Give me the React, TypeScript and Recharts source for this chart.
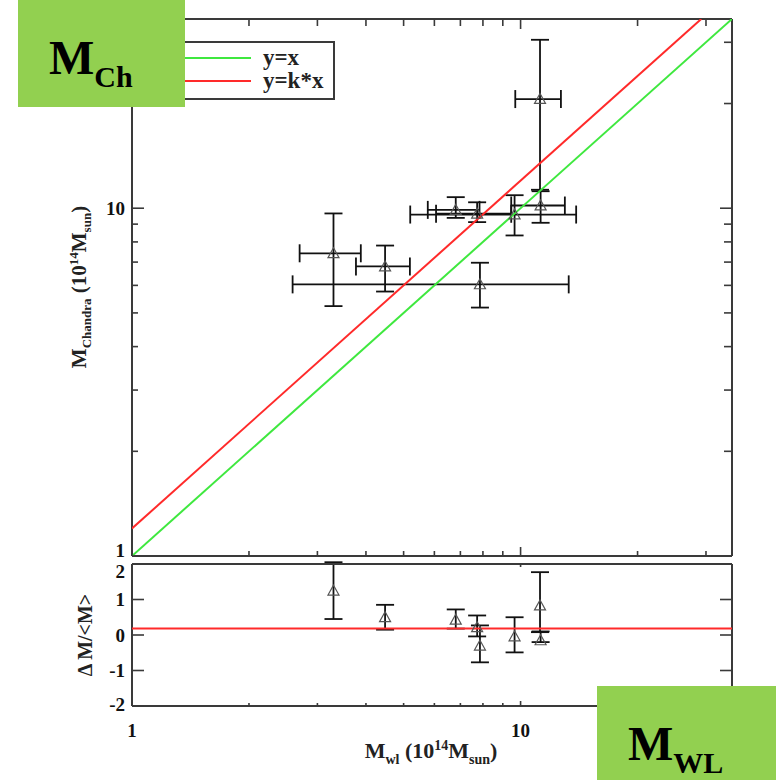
import { ScatterChart, Scatter, XAxis, YAxis, ErrorBar } from 'recharts';

// weak-lensing vs Chandra cluster masses, units of 1e14 Msun
const M_WL    = [3.30, 4.48, 7.86, 6.81, 7.73, 9.65, 11.26, 11.22];
const M_WL_LO = [2.70, 3.77, 2.59, 5.77, 6.06, 5.20, 9.46, 9.69];
const M_WL_HI = [3.88, 5.19, 13.3, 7.84, 9.46, 13.9, 13.0, 12.7];

const M_CH    = [7.42, 6.80, 6.04, 9.89, 9.64, 9.59, 10.18, 20.6];
const M_CH_LO = [5.23, 5.76, 5.18, 9.38, 9.12, 8.35, 9.08, 11.3];
const M_CH_HI = [9.66, 7.81, 6.97, 10.76, 10.4, 10.9, 11.19, 30.5];

// lower panel: Delta M / <M>
const RESID    = [1.25, 0.50, -0.30, 0.43, 0.22, -0.04, -0.15, 0.83];
const RESID_LO = [0.45, 0.15, -0.77, 0.18, -0.04, -0.49, -0.20, 0.08];
const RESID_HI = [2.05, 0.85, 0.27, 0.72, 0.55, 0.50, 0.10, 1.77];

const K = 1.2;          // slope of y=k*x
const OFFSET = 0.18;    // mean residual line
const DOMAIN: [number, number] = [1, 35];
const LOG_TICKS = [1, 2, 3, 4, 5, 6, 7, 8, 9, 10, 20, 30];
const MAJOR = [1, 10];
const RES_TICKS = [-2, -1, 0, 1, 2];

const FONT = '"Liberation Serif", "Times New Roman", serif';
const AXIS = '#3a3a3a';
const GREEN = '#3fe83f';
const RED = '#ff2a2a';
const BOX = '#92d050';

const points = M_WL.map((x, i) => ({
  x,
  y: M_CH[i],
  ex: [x - M_WL_LO[i], M_WL_HI[i] - x],
  ey: [M_CH[i] - M_CH_LO[i], M_CH_HI[i] - M_CH[i]],
}));

const resid = M_WL.map((x, i) => ({
  x,
  y: RESID[i],
  ey: [RESID[i] - RESID_LO[i], RESID_HI[i] - RESID[i]],
}));

const oneToOne = DOMAIN.map(v => ({ x: v, y: v }));
const kLine = [{ x: DOMAIN[0], y: K * DOMAIN[0] }, { x: DOMAIN[1] / K, y: DOMAIN[1] }];
const offsetLine = DOMAIN.map(v => ({ x: v, y: OFFSET }));

type Side = 'left' | 'right' | 'top' | 'bottom';

// ticks point into the frame, labels sit outside; nudge moves edge labels inward
function makeTick(side: Side, major: number[], majLen: number, minLen: number, labels: boolean,
  nudge: Record<string, number> = {}) {
  return (props: any) => {
    const { x, y, payload } = props;
    const v = payload.value;
    const isMajor = major.includes(v);
    const len = isMajor ? majLen : minLen;
    let x2 = x, y2 = y;
    if (side === 'left') x2 = x + len;
    else if (side === 'right') x2 = x - len;
    else if (side === 'bottom') y2 = y - len;
    else y2 = y + len;
    const dy = nudge[String(v)] || 0;
    const txt = { fontFamily: FONT, fontWeight: 700, fontSize: 19, fill: '#111' };
    return (
      <g>
        {len > 0 && <line x1={x} y1={y} x2={x2} y2={y2} stroke={AXIS} strokeWidth={1.6} />}
        {labels && isMajor && side === 'left' && (
          <text x={x - 7} y={y + dy} textAnchor="end" dominantBaseline="central" {...txt}>{v}</text>
        )}
        {labels && isMajor && side === 'bottom' && (
          <text x={x} y={y + 24} textAnchor="middle" dominantBaseline="central" {...txt}>{v}</text>
        )}
      </g>
    );
  };
}

const Triangle = (p: any) => {
  const { cx, cy } = p;
  const s = 5.5;
  return (
    <polygon
      points={`${cx},${cy - s} ${cx - s},${cy + s * 0.8} ${cx + s},${cy + s * 0.8}`}
      fill="none" stroke="#555" strokeWidth={1.2}
    />
  );
};

const NoDot = () => <g />;

const axisLine = { stroke: AXIS, strokeWidth: 2 };

function TopPanel() {
  return (
    <ScatterChart width={776} height={560} margin={{ top: 18, right: 43, bottom: 3, left: 131 }}>
      <XAxis xAxisId="b" dataKey="x" type="number" scale="log" domain={DOMAIN} allowDataOverflow
        ticks={LOG_TICKS} interval={0} height={1} tickSize={0} tickMargin={0} tickLine={false}
        axisLine={axisLine} tick={makeTick('bottom', [10], 9, 5, false)} />
      <XAxis xAxisId="t" orientation="top" dataKey="x" type="number" scale="log" domain={DOMAIN} allowDataOverflow
        ticks={LOG_TICKS} interval={0} height={1} tickSize={0} tickMargin={0} tickLine={false}
        axisLine={axisLine} tick={makeTick('top', [10], 10, 7, false)} />
      <YAxis yAxisId="l" dataKey="y" type="number" scale="log" domain={DOMAIN} allowDataOverflow
        ticks={LOG_TICKS} interval={0} width={1} tickSize={0} tickMargin={0} tickLine={false}
        axisLine={axisLine} tick={makeTick('left', MAJOR, 12, 6, true, { '1': -6 })} />
      <YAxis yAxisId="r" orientation="right" dataKey="y" type="number" scale="log" domain={DOMAIN} allowDataOverflow
        ticks={LOG_TICKS} interval={0} width={1} tickSize={0} tickMargin={0} tickLine={false}
        axisLine={axisLine} tick={makeTick('right', MAJOR, 12, 8, false)} />
      <Scatter xAxisId="t" yAxisId="r" data={oneToOne} line={{ stroke: GREEN, strokeWidth: 2 }}
        shape={NoDot} legendType="none" isAnimationActive={false} />
      <Scatter xAxisId="b" yAxisId="l" data={kLine} line={{ stroke: RED, strokeWidth: 2 }}
        shape={NoDot} legendType="none" isAnimationActive={false} />
      <Scatter xAxisId="b" yAxisId="l" data={points} shape={Triangle} isAnimationActive={false}>
        <ErrorBar dataKey="ex" direction="x" width={9} stroke="#111" strokeWidth={1.8} isAnimationActive={false} />
        <ErrorBar dataKey="ey" direction="y" width={9} stroke="#111" strokeWidth={1.8} isAnimationActive={false} />
      </Scatter>
    </ScatterChart>
  );
}

function BottomPanel() {
  return (
    <ScatterChart width={776} height={224} margin={{ top: 7, right: 43, bottom: 73, left: 131 }}>
      <XAxis xAxisId="b" dataKey="x" type="number" scale="log" domain={DOMAIN} allowDataOverflow
        ticks={LOG_TICKS} interval={0} height={1} tickSize={0} tickMargin={0} tickLine={false}
        axisLine={axisLine} tick={makeTick('bottom', MAJOR, 5, 3, true)} />
      <XAxis xAxisId="t" orientation="top" dataKey="x" type="number" scale="log" domain={DOMAIN} allowDataOverflow
        ticks={[10]} interval={0} height={1} tickSize={0} tickMargin={0} tickLine={false}
        axisLine={axisLine} tick={makeTick('top', [10], 3, 0, false)} />
      <YAxis yAxisId="l" dataKey="y" type="number" domain={[-2, 2]} allowDataOverflow
        ticks={RES_TICKS} interval={0} width={1} tickSize={0} tickMargin={0} tickLine={false}
        axisLine={axisLine} tick={makeTick('left', RES_TICKS, 12, 12, true, { '2': 7, '-2': -2 })} />
      <YAxis yAxisId="r" orientation="right" dataKey="y" type="number" domain={[-2, 2]} allowDataOverflow
        ticks={RES_TICKS} interval={0} width={1} tickSize={0} tickMargin={0} tickLine={false}
        axisLine={axisLine} tick={makeTick('right', RES_TICKS, 12, 12, false)} />
      <Scatter xAxisId="t" yAxisId="r" data={offsetLine} line={{ stroke: RED, strokeWidth: 2 }}
        shape={NoDot} legendType="none" isAnimationActive={false} />
      <Scatter xAxisId="b" yAxisId="l" data={resid} shape={Triangle} isAnimationActive={false}>
        <ErrorBar dataKey="ey" direction="y" width={9} stroke="#111" strokeWidth={1.8} isAnimationActive={false} />
      </Scatter>
    </ScatterChart>
  );
}

const labelStyle = {
  position: 'absolute' as const,
  fontFamily: FONT,
  fontWeight: 700,
  fontSize: 21,
  color: '#222',
  whiteSpace: 'nowrap' as const,
  lineHeight: 1,
};

const small = { fontSize: 13 };

export default function App() {
  return (
    <div style={{ position: 'absolute', left: 0, top: 0, width: 776, height: 780, background: '#fff', overflow: 'hidden' }}>
      <div style={{ position: 'absolute', left: 0, top: 0 }}><TopPanel /></div>
      <div style={{ position: 'absolute', left: 0, top: 556 }}><BottomPanel /></div>

      {/* axis titles */}
      <div style={{ ...labelStyle, left: 80, top: 287, transform: 'translate(-50%, -50%) rotate(-90deg)' }}>
        M<sub style={small}>Chandra</sub> (10<sup style={small}>14</sup>M<sub style={small}>sun</sub>)
      </div>
      <div style={{ ...labelStyle, fontSize: 22, left: 431, top: 753, transform: 'translate(-50%, -50%)' }}>
        M<sub style={{ fontSize: 14 }}>wl</sub> (10<sup style={{ fontSize: 14 }}>14</sup>M<sub style={{ fontSize: 14 }}>sun</sub>)
      </div>
      <div style={{ ...labelStyle, fontSize: 20, left: 85, top: 635, transform: 'translate(-50%, -50%) rotate(-90deg)' }}>
        Δ M/&lt;M&gt;
      </div>

      {/* legend */}
      <div style={{ position: 'absolute', left: 140, top: 41, width: 191, height: 55, border: `2px solid ${AXIS}`, background: '#fff', fontFamily: FONT, fontWeight: 700, fontSize: 23, color: '#222' }}>
        <div style={{ position: 'absolute', left: 0, top: 14, width: 109, height: 2, background: GREEN }} />
        <div style={{ position: 'absolute', left: 121, top: 3, lineHeight: 1 }}>y=x</div>
        <div style={{ position: 'absolute', left: 0, top: 37, width: 109, height: 2, background: RED }} />
        <div style={{ position: 'absolute', left: 121, top: 26, lineHeight: 1 }}>y=k*x</div>
      </div>

      {/* highlight boxes */}
      <div style={{ position: 'absolute', left: 18, top: 0, width: 167, height: 107, background: BOX }}>
        <div style={{ position: 'absolute', left: 31, top: 34, fontFamily: FONT, fontWeight: 700, fontSize: 48, lineHeight: 1, color: '#000', whiteSpace: 'nowrap' }}>
          M<span style={{ fontSize: 30, position: 'relative', top: 13 }}>Ch</span>
        </div>
      </div>
      <div style={{ position: 'absolute', left: 597, top: 686, width: 179, height: 94, background: BOX }}>
        <div style={{ position: 'absolute', left: 31, top: 34, fontFamily: FONT, fontWeight: 700, fontSize: 48, lineHeight: 1, color: '#000', whiteSpace: 'nowrap' }}>
          M<span style={{ fontSize: 30, position: 'relative', top: 13 }}>WL</span>
        </div>
      </div>
    </div>
  );
}
